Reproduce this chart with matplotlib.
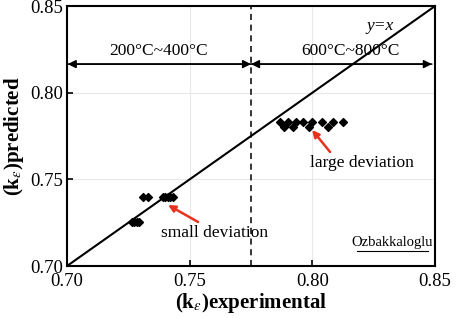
import matplotlib
matplotlib.use("Agg")
import matplotlib.pyplot as plt

plt.rcParams['font.family'] = ['Liberation Serif', 'DejaVu Serif']
plt.rcParams['mathtext.fontset'] = 'stix'

# data
low_x = [0.7265, 0.7275, 0.7285, 0.7295, 0.7310, 0.7330, 0.7390, 0.7400, 0.7410, 0.7420, 0.7430]
low_y = [0.7255, 0.7255, 0.7255, 0.7255, 0.7400, 0.7400, 0.7400, 0.7400, 0.7400, 0.7400, 0.7400]
high_x = [0.7870, 0.7885, 0.7900, 0.7920, 0.7935, 0.7960, 0.7985, 0.8000, 0.8040, 0.8065, 0.8085, 0.8125]
high_y = [0.7830, 0.7800, 0.7830, 0.7800, 0.7830, 0.7830, 0.7800, 0.7830, 0.7830, 0.7800, 0.7830, 0.7830]
ticks = [0.70, 0.75, 0.80, 0.85]
tick_labels = ['0.70', '0.75', '0.80', '0.85']

fig = plt.figure(figsize=(4.57, 3.18), dpi=100)
ax = fig.add_axes([0.1466, 0.1635, 0.8054, 0.8175])
ax.set_xlim(0.70, 0.85)
ax.set_ylim(0.70, 0.85)
ax.set_xticks(ticks)
ax.set_xticklabels(tick_labels)
ax.set_yticks(ticks)
ax.set_yticklabels(tick_labels)
ax.grid(True, color='#e8e8e8', linewidth=0.8)
ax.set_axisbelow(True)
ax.tick_params(direction='in', length=4, width=1.2, labelsize=13.5, colors='black')
ax.tick_params(axis='x', pad=5)
ax.tick_params(axis='y', pad=3)
for s in ax.spines.values():
    s.set_linewidth(1.5)

ax.plot([0.70, 0.85], [0.70, 0.85], color='black', linewidth=1.5)
ax.axvline(0.775, color='black', linestyle=(0, (4, 3)), linewidth=1.1)

ax.scatter(low_x, low_y, marker='D', s=16, color='black', zorder=3)
ax.scatter(high_x, high_y, marker='D', s=16, color='black', zorder=3)

arrow_kw = dict(arrowstyle='-|>', color='black', lw=1.1, shrinkA=0, shrinkB=0, mutation_scale=12)
ax.annotate('', xy=(0.7003, 0.8165), xytext=(0.775, 0.8165), arrowprops=arrow_kw)
ax.annotate('', xy=(0.775, 0.8165), xytext=(0.7003, 0.8165), arrowprops=arrow_kw)
ax.annotate('', xy=(0.8487, 0.8165), xytext=(0.775, 0.8165), arrowprops=arrow_kw)
ax.annotate('', xy=(0.775, 0.8165), xytext=(0.8487, 0.8165), arrowprops=arrow_kw)

ax.text(0.7375, 0.8240, '200°C~400°C', ha='center', va='center', fontsize=12.5)
ax.text(0.8155, 0.8240, '600°C~800°C', ha='center', va='center', fontsize=12.5)
ax.text(0.8275, 0.8385, 'y=x', ha='center', va='center', fontsize=12.5, style='italic')

red_kw = dict(arrowstyle='-|>', color='#e8321e', lw=1.8, shrinkA=0, shrinkB=0, mutation_scale=10)
ax.annotate('', xy=(0.7412, 0.7352), xytext=(0.7534, 0.7254), arrowprops=red_kw)
ax.text(0.7600, 0.7190, 'small deviation', ha='center', va='center', fontsize=12.5)
ax.annotate('', xy=(0.7999, 0.7785), xytext=(0.8072, 0.7658), arrowprops=red_kw)
ax.text(0.8203, 0.7594, 'large deviation', ha='center', va='center', fontsize=12.5)

ax.text(0.8327, 0.7138, 'Ozbakkaloglu', ha='center', va='center', fontsize=10.5)
ax.plot([0.8182, 0.8471], [0.7087, 0.7087], color='black', linewidth=0.8)

ax.set_xlabel(r'(k$_{\varepsilon}$)experimental', fontsize=15, fontweight='bold', labelpad=1)
ax.set_ylabel(r'(k$_{\varepsilon}$)predicted', fontsize=15, fontweight='bold', labelpad=3)

fig.savefig('out.png', dpi=100)
